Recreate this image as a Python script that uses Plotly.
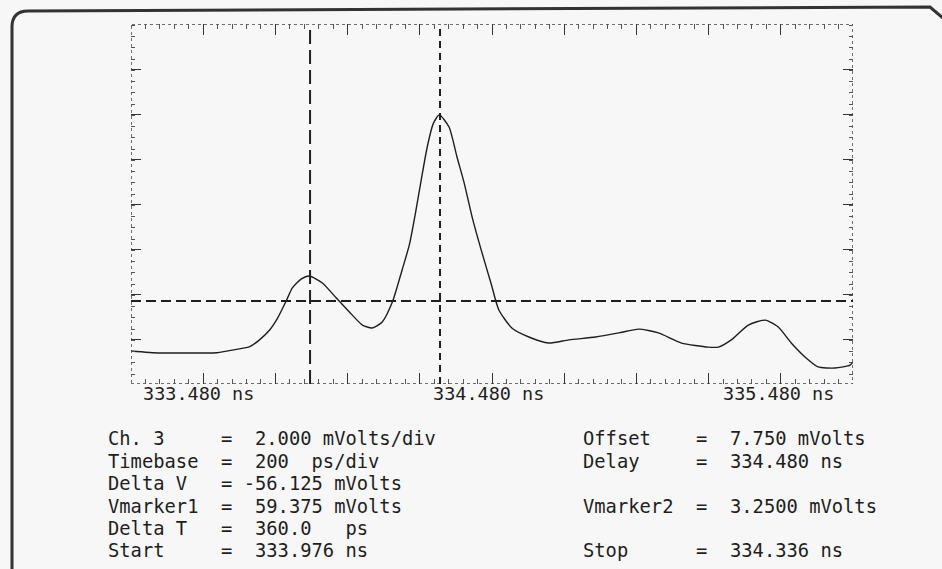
import plotly.graph_objects as go

# ---- trace data: channel 3 waveform (time in ns, amplitude in mV) ----
time_ns = [
    333.480, 333.560, 333.671, 333.718, 333.773, 333.809, 333.836, 333.864,
    333.886, 333.911, 333.927, 333.952, 333.974, 334.010, 334.049, 334.085,
    334.121, 334.148, 334.176, 334.204, 334.231, 334.251, 334.267, 334.284,
    334.300, 334.317, 334.334, 334.361, 334.383, 334.403, 334.425, 334.450,
    334.477, 334.499, 334.535, 334.582, 334.637, 334.693, 334.767, 334.831,
    334.886, 334.941, 335.005, 335.079, 335.107, 335.143, 335.190, 335.237,
    335.273, 335.309, 335.347, 335.383, 335.430, 335.472, 335.480,
]
trace_mv = [
    1.03, 0.94, 0.94, 0.95, 1.10, 1.22, 1.52, 1.96,
    2.49, 3.29, 3.83, 4.23, 4.36, 4.05, 3.38, 2.76,
    2.18, 2.05, 2.32, 3.20, 4.63, 5.74, 7.07, 8.63,
    10.05, 11.12, 11.52, 10.98, 9.65, 8.49, 6.98, 5.52,
    4.05, 2.85, 2.05, 1.65, 1.38, 1.52, 1.65, 1.83,
    2.00, 1.83, 1.38, 1.20, 1.20, 1.52, 2.18, 2.40,
    2.09, 1.38, 0.76, 0.32, 0.27, 0.40, 0.54,
]

# ---- scope settings ----
delay_ns = 334.480          # screen centre
timebase_ns = 0.200         # per division
x_divs = 10
volts_per_div = 2.0
y_range = [-0.44, 15.56]

start_ns = 333.976
stop_ns = 334.336
vmarker2_mv = 3.25

axis_labels = ["333.480 ns", "334.480 ns", "335.480 ns"]

left_lines = [
    "Ch. 3     =  2.000 mVolts/div",
    "Timebase  =  200  ps/div",
    "Delta V   = -56.125 mVolts",
    "Vmarker1  =  59.375 mVolts",
    "Delta T   =  360.0   ps",
    "Start     =  333.976 ns",
]
right_lines = [
    "Offset    =  7.750 mVolts",
    "Delay     =  334.480 ns",
    "",
    "Vmarker2  =  3.2500 mVolts",
    "",
    "Stop      =  334.336 ns",
]

W, H = 942, 569
INK = "#1e1e1e"
BG = "#f7f7f7"
MONO = "DejaVu Sans Mono"


def pxx(x):
    return x / W


def pxy(y):
    return 1 - y / H


x0 = delay_ns - timebase_ns * x_divs / 2
x1 = delay_ns + timebase_ns * x_divs / 2

fig = go.Figure()
fig.add_trace(go.Scatter(
    x=time_ns, y=trace_mv, mode="lines",
    line=dict(color=INK, width=1.4, shape="spline", smoothing=0.6),
    hoverinfo="skip", showlegend=False,
))

# graticule frame
fig.add_shape(type="rect", xref="x", yref="y", x0=x0, x1=x1,
              y0=y_range[0], y1=y_range[1],
              line=dict(color="#444", width=1.5, dash="dot"), layer="below")

# time markers and voltage marker
fig.add_shape(type="line", xref="x", yref="y", x0=start_ns, x1=start_ns,
              y0=y_range[0], y1=y_range[1],
              line=dict(color=INK, width=2, dash="14px,6px"))
fig.add_shape(type="line", xref="x", yref="y", x0=stop_ns, x1=stop_ns,
              y0=y_range[0], y1=y_range[1],
              line=dict(color=INK, width=2, dash="7px,5px"))
fig.add_shape(type="line", xref="x", yref="y", x0=x0, x1=x1,
              y0=vmarker2_mv, y1=vmarker2_mv,
              line=dict(color=INK, width=1.8, dash="10px,5px"))

# outer panel border
border = (f"M {pxx(12)},{pxy(574)} L {pxx(12)},{pxy(27)} "
          f"Q {pxx(12)},{pxy(11)} {pxx(28)},{pxy(11)} "
          f"L {pxx(930)},{pxy(7)} L {pxx(950)},{pxy(24)}")
fig.add_shape(type="path", xref="paper", yref="paper", path=border,
              line=dict(color="#333", width=3))

# axis labels below the graticule
for txt, left in zip(axis_labels, [141, 431, 721]):
    fig.add_annotation(text=txt, xref="paper", yref="paper",
                       x=pxx(left), y=pxy(393), xanchor="left", yanchor="middle",
                       showarrow=False, font=dict(family=MONO, size=18.5, color=INK))

# settings readout
row_y = [438.5, 461, 483.5, 506, 528.5, 550.5]
for block, left in ((left_lines, 106), (right_lines, 581)):
    for txt, yy in zip(block, row_y):
        if not txt:
            continue
        fig.add_annotation(text=txt.replace(" ", "&nbsp;"), xref="paper", yref="paper",
                           x=pxx(left), y=pxy(yy), xanchor="left", yanchor="middle",
                           showarrow=False,
                           font=dict(family=MONO, size=18.8, color=INK))

fig.update_layout(
    width=W, height=H,
    margin=dict(l=0, r=0, t=0, b=0),
    paper_bgcolor=BG, plot_bgcolor=BG,
    showlegend=False,
    xaxis=dict(
        domain=[pxx(131), pxx(853)], range=[x0, x1],
        showgrid=False, zeroline=False, showline=False, showticklabels=False,
        ticks="inside", tick0=x0, dtick=timebase_ns, ticklen=11,
        tickcolor="#333", tickwidth=1.3, mirror="allticks",
        minor=dict(ticks="inside", dtick=timebase_ns / 5, ticklen=5,
                   tickcolor="#555", tickwidth=1, showgrid=False),
        fixedrange=True,
    ),
    yaxis=dict(
        domain=[pxy(384), pxy(24)], range=y_range,
        showgrid=False, zeroline=False, showline=False, showticklabels=False,
        ticks="inside", tick0=y_range[0], dtick=volts_per_div, ticklen=10,
        tickcolor="#333", tickwidth=1.3, mirror="allticks",
        minor=dict(ticks="inside", dtick=volts_per_div / 4, ticklen=4,
                   tickcolor="#555", tickwidth=1, showgrid=False),
        fixedrange=True,
    ),
)

fig.write_html("out.html")
